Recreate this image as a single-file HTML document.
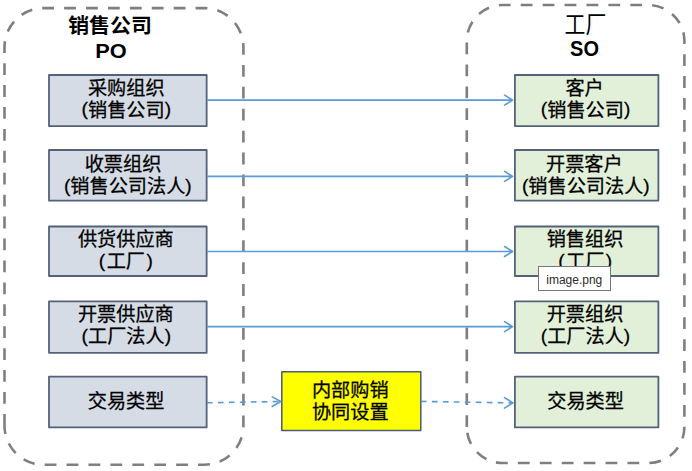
<!DOCTYPE html>
<html lang="zh">
<head>
<meta charset="utf-8">
<title>diagram</title>
<style>
html,body{margin:0;padding:0;background:#fff;}
body{width:692px;height:471px;position:relative;overflow:hidden;font-family:"Liberation Sans","Noto Sans CJK SC",sans-serif;color:#000;}
svg.bg{position:absolute;left:0;top:0;filter:blur(0.4px);}
.ln{position:absolute;height:22px;font-size:18px;line-height:22px;text-align:center;white-space:nowrap;-webkit-text-stroke:0.25px #000;}
.ln span{display:block;transform-origin:50% 50%;}
.ln i{font-style:normal;position:relative;top:-1px;}
.t{position:absolute;font-weight:bold;font-size:20px;line-height:26px;height:26px;width:120px;text-align:center;white-space:nowrap;}
.t span{display:block;transform-origin:50% 50%;}
.tip{position:absolute;left:538px;top:266px;width:72.5px;height:24.5px;box-sizing:border-box;border:1px solid #767676;background:#fff;font-size:12px;line-height:22px;padding-top:1.5px;text-align:center;color:#2b2b2b;}
</style>
</head>
<body>
<svg class="bg" width="692" height="471" viewBox="0 0 692 471">
<path d="M4.5 425.7V47.15A39 39 0 0 1 43.5 8.15H204.4A39 39 0 0 1 243.4 47.15V425.7A39 39 0 0 1 204.4 464.7H43.5A39 39 0 0 1 4.5 425.7Z" fill="none" stroke="#7f7f7f" stroke-width="2.6" stroke-dasharray="11.8 10.12"/>
<path d="M466.8 427V41.05A36 36 0 0 1 502.8 5.05H648.4A36 36 0 0 1 684.4 41.05V427A36 36 0 0 1 648.4 463H502.8A36 36 0 0 1 466.8 427Z" fill="none" stroke="#7f7f7f" stroke-width="2.6" stroke-dasharray="11.8 10.12"/>
<rect x="49.0" y="75.0" width="157.65" height="51.1" fill="#d6dce5" stroke="#536279" stroke-width="1.8" stroke-linejoin="round"/>
<rect x="514.9" y="75.0" width="143.5" height="51.1" fill="#e2f0d9" stroke="#536279" stroke-width="1.8" stroke-linejoin="round"/>
<rect x="49.0" y="150.0" width="157.65" height="50.6" fill="#d6dce5" stroke="#536279" stroke-width="1.8" stroke-linejoin="round"/>
<rect x="514.9" y="150.0" width="143.5" height="50.6" fill="#e2f0d9" stroke="#536279" stroke-width="1.8" stroke-linejoin="round"/>
<rect x="49.0" y="226.5" width="157.65" height="49.5" fill="#d6dce5" stroke="#536279" stroke-width="1.8" stroke-linejoin="round"/>
<rect x="514.9" y="226.5" width="143.5" height="49.5" fill="#e2f0d9" stroke="#536279" stroke-width="1.8" stroke-linejoin="round"/>
<rect x="49.0" y="301.4" width="157.65" height="51.4" fill="#d6dce5" stroke="#536279" stroke-width="1.8" stroke-linejoin="round"/>
<rect x="514.9" y="301.4" width="143.5" height="51.4" fill="#e2f0d9" stroke="#536279" stroke-width="1.8" stroke-linejoin="round"/>
<rect x="49.0" y="376.6" width="157.65" height="50.8" fill="#d6dce5" stroke="#536279" stroke-width="1.8" stroke-linejoin="round"/>
<rect x="514.9" y="376.6" width="143.5" height="50.8" fill="#e2f0d9" stroke="#536279" stroke-width="1.8" stroke-linejoin="round"/>
<rect x="281.8" y="371.8" width="139" height="58.7" fill="#ffff00" stroke="#4a5a7a" stroke-width="1.5" stroke-linejoin="round"/>
<g stroke="#5b9bd5" stroke-width="1.6" fill="none" stroke-linecap="round" stroke-linejoin="round">
<path d="M207.6 100.1H512.3M504.6 95.1L512.6 100.1L504.6 105.1"/>
<path d="M207.6 176.4H512.3M504.6 171.4L512.6 176.4L504.6 181.4"/>
<path d="M207.6 251.5H512.3M504.6 246.5L512.6 251.5L504.6 256.5"/>
<path d="M207.6 326.6H512.3M504.6 321.6L512.6 326.6L504.6 331.6"/>
<path d="M207 402.8L280 401.5" stroke-dasharray="5.7 5.25" stroke-linecap="butt"/>
<path d="M272.2 396.9L280.8 401.5L272.2 406.5"/>
<path d="M421 401.4L512 402.9" stroke-dasharray="5.7 5.25" stroke-linecap="butt"/>
<path d="M504.5 397.6L513 402.9L504.5 408.1"/>
</g>
</svg>
<div class="t" style="left:50px;top:14px;"><span style="transform:translate(0px,-0.75px) scale(1.045,1.01);">销售公司</span></div>
<div class="t" style="left:50px;top:38px;"><span style="transform:translate(0.9px,-0.3px) scale(1.09,1.02);">PO</span></div>
<div class="t" style="left:525px;top:11px;font-weight:400;"><span style="transform:translate(0.5px,0.35px) scale(1.045,1.2);">工厂</span></div>
<div class="t" style="left:524px;top:36px;"><span style="transform:translate(0.5px,-0.3px) scale(1.0,1.1);">SO</span></div>
<div class="ln" style="left:41px;top:77px;width:170px;"><span style="transform:translate(0.25px,0.58px) scale(1.065,1.055);">采购组织</span></div>
<div class="ln" style="left:41px;top:99px;width:170px;"><span style="transform:translate(0.35px,0.18px) scale(1.065,1.055);"><i>(</i>销售公司<i>)</i></span></div>
<div class="ln" style="left:38px;top:153px;width:170px;"><span style="transform:translate(0.00px,0.63px) scale(1.065,1.055);">收票组织</span></div>
<div class="ln" style="left:42px;top:175px;width:170px;"><span style="transform:translate(0.80px,0.83px) scale(1.065,1.055);"><i>(</i>销售公司法人<i>)</i></span></div>
<div class="ln" style="left:40px;top:228px;width:170px;"><span style="transform:translate(0.85px,0.68px) scale(1.065,1.055);">供货供应商</span></div>
<div class="ln" style="left:40px;top:250px;width:170px;"><span style="transform:translate(0.80px,0.73px) scale(1.065,1.055);"><i style="margin-right:1.4px">(</i>工厂<i style="margin-left:1.4px">)</i></span></div>
<div class="ln" style="left:40px;top:303px;width:170px;"><span style="transform:translate(0.85px,0.48px) scale(1.065,1.055);">开票供应商</span></div>
<div class="ln" style="left:41px;top:325px;width:170px;"><span style="transform:translate(0.30px,0.73px) scale(1.065,1.055);"><i>(</i>工厂法人<i>)</i></span></div>
<div class="ln" style="left:41px;top:390px;width:170px;"><span style="transform:translate(0.10px,0.93px) scale(1.065,1.055);">交易类型</span></div>
<div class="ln" style="left:499px;top:77px;width:170px;"><span style="transform:translate(0.60px,0.58px) scale(1.065,1.055);">客户</span></div>
<div class="ln" style="left:500px;top:99px;width:170px;"><span style="transform:translate(0.60px,0.18px) scale(1.065,1.055);"><i>(</i>销售公司<i>)</i></span></div>
<div class="ln" style="left:499px;top:153px;width:170px;"><span style="transform:translate(0.30px,0.63px) scale(1.065,1.055);">开票客户</span></div>
<div class="ln" style="left:500px;top:175px;width:170px;"><span style="transform:translate(0.80px,0.83px) scale(1.065,1.055);"><i>(</i>销售公司法人<i>)</i></span></div>
<div class="ln" style="left:500px;top:228px;width:170px;"><span style="transform:translate(0.00px,0.68px) scale(1.065,1.055);">销售组织</span></div>
<div class="ln" style="left:500px;top:250px;width:170px;"><span style="transform:translate(0.20px,0.73px) scale(1.065,1.055);"><i style="margin-right:1.4px">(</i>工厂<i style="margin-left:1.4px">)</i></span></div>
<div class="ln" style="left:500px;top:303px;width:170px;"><span style="transform:translate(0.00px,0.48px) scale(1.065,1.055);">开票组织</span></div>
<div class="ln" style="left:500px;top:325px;width:170px;"><span style="transform:translate(0.50px,0.73px) scale(1.065,1.055);"><i>(</i>工厂法人<i>)</i></span></div>
<div class="ln" style="left:500px;top:390px;width:170px;"><span style="transform:translate(0.60px,0.93px) scale(1.065,1.055);">交易类型</span></div>
<div class="ln" style="left:265px;top:379px;width:170px;"><span style="transform:translate(0.25px,0.48px) scale(1.065,1.055);">内部购销</span></div>
<div class="ln" style="left:265px;top:401px;width:170px;"><span style="transform:translate(0.25px,0.23px) scale(1.065,1.055);">协同设置</span></div>
<div class="tip">image.png</div>
</body>
</html>
